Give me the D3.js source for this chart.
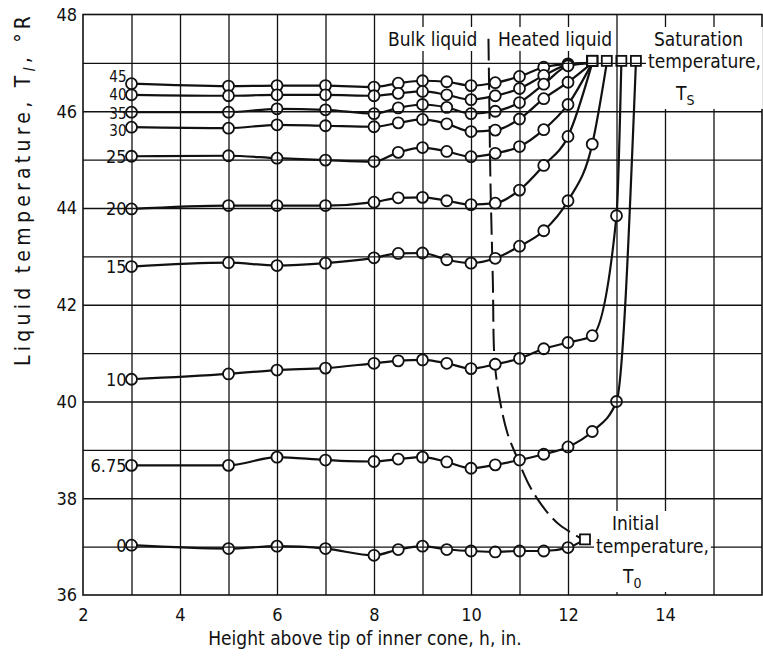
<!DOCTYPE html>
<html>
<head>
<meta charset="utf-8">
<script src="https://cdn.jsdelivr.net/npm/d3@7"></script>
<style>
  body { margin: 0; background: #fff; }
  text { font-family: "DejaVu Sans Condensed", "DejaVu Sans", sans-serif; font-stretch: condensed; fill: #111; }
</style>
</head>
<body>
<svg width="763" height="658"></svg>
<script>
// heights where temperatures were measured (in.)
const heights = [3, 5, 6, 7, 8, 8.5, 9, 9.5, 10, 10.5, 11, 11.5, 12, 12.5, 13];

// curve labels (time)
const timeLabels = ["45", "40", "35", "30", "25", "20", "15", "10", "6.75", "0"];

// liquid temperature, deg R, one array per curve (same order as timeLabels)
const temp45 = [46.57, 46.52, 46.53, 46.53, 46.50, 46.58, 46.63, 46.61, 46.53, 46.59, 46.72, 46.91, 46.98];
const temp40 = [46.34, 46.32, 46.34, 46.34, 46.32, 46.37, 46.41, 46.34, 46.24, 46.32, 46.47, 46.74, 46.96];
const temp35 = [45.98, 45.98, 46.05, 46.03, 45.95, 46.07, 46.14, 46.08, 45.95, 46.00, 46.18, 46.56, 46.94];
const temp30 = [45.67, 45.65, 45.72, 45.70, 45.68, 45.76, 45.83, 45.74, 45.58, 45.61, 45.84, 46.26, 46.60];
const temp25 = [45.07, 45.08, 45.03, 44.99, 44.96, 45.15, 45.25, 45.17, 45.06, 45.13, 45.27, 45.62, 46.14];
const temp20 = [43.98, 44.05, 44.05, 44.05, 44.12, 44.21, 44.22, 44.15, 44.07, 44.10, 44.37, 44.88, 45.48];
const temp15 = [42.79, 42.87, 42.81, 42.86, 42.97, 43.06, 43.07, 42.93, 42.86, 42.96, 43.21, 43.53, 44.15, 45.32];
const temp10 = [40.46, 40.57, 40.65, 40.69, 40.79, 40.84, 40.86, 40.79, 40.68, 40.77, 40.89, 41.09, 41.22, 41.36, 43.84];
const temp675 = [38.68, 38.68, 38.85, 38.79, 38.76, 38.81, 38.85, 38.75, 38.62, 38.69, 38.79, 38.91, 39.06, 39.38, 40.00];
const temp0 = [37.03, 36.96, 37.01, 36.96, 36.82, 36.94, 37.01, 36.94, 36.91, 36.89, 36.91, 36.91, 36.98];

// end points (squares): saturation temperature, and initial temperature for the 0 curve
const endHeights = [12.5, 12.5, 12.5, 12.5, 12.5, 12.5, 12.8, 13.1, 13.4, 12.35];
const endTemps = [47, 47, 47, 47, 47, 47, 47, 47, 47, 37.15];

// dashed boundary between bulk liquid and heated liquid
const boundaryHeights = [10.36, 10.38, 10.40, 10.45, 10.49, 10.6, 10.75, 10.95, 11.19, 11.4, 11.64, 11.85, 12.3];
const boundaryTemps = [47.5, 46.0, 44.6, 42.5, 40.8, 40.0, 39.35, 38.84, 38.29, 37.94, 37.63, 37.43, 37.15];

const xTicks = [2, 4, 6, 8, 10, 12, 14];
const yTicks = [36, 38, 40, 42, 44, 46, 48];

const temps = [temp45, temp40, temp35, temp30, temp25, temp20, temp15, temp10, temp675, temp0];

// small vertical nudges (px) so the crowded labels at the top stay apart
const labelNudge = {"45": -7, "40": 0, "35": 1, "30": 3};

const svg = d3.select("svg");
const plotLeft = 83, plotRight = 762, plotTop = 14.5, plotBottom = 595;

const x = d3.scaleLinear().domain([2, 16]).range([plotLeft, plotRight]);
const y = d3.scaleLinear().domain([36, 48]).range([plotBottom, plotTop]);

const series = temps.map((t, i) => ({
    label: timeLabels[i],
    points: t.map((v, j) => ({h: heights[j], T: v})),
    end: {h: endHeights[i], T: endTemps[i]}
}));

const line = d3.line()
    .x(d => x(d.h))
    .y(d => y(d.T))
    .curve(d3.curveMonotoneX);

// curves
svg.append("g").selectAll("path")
    .data(series)
    .enter()
    .append("path")
    .attr("d", d => line(d.points.concat([d.end])))
    .attr("fill", "none")
    .attr("stroke", "#111")
    .attr("stroke-width", 2.2);

// dashed boundary
const boundary = boundaryHeights.map((h, i) => ({h: h, T: boundaryTemps[i]}));
svg.append("path")
    .attr("d", d3.line().x(d => x(d.h)).y(d => y(d.T)).curve(d3.curveCatmullRom.alpha(0.5))(boundary))
    .attr("fill", "none")
    .attr("stroke", "#111")
    .attr("stroke-width", 2)
    .attr("stroke-dasharray", "22,7");

// circle markers
series.forEach(s => {
    svg.append("g").selectAll("circle")
        .data(s.points)
        .enter()
        .append("circle")
        .attr("cx", d => x(d.h))
        .attr("cy", d => y(d.T))
        .attr("r", 5.5)
        .attr("fill", "#fff")
        .attr("stroke", "#111")
        .attr("stroke-width", 1.8);
});

// square end markers
svg.append("g").selectAll("rect")
    .data(series)
    .enter()
    .append("rect")
    .attr("x", d => x(d.end.h) - 5)
    .attr("y", d => y(d.end.T) - 5 - (d.end.T === 47 ? 2 : 0))
    .attr("width", 10)
    .attr("height", 10)
    .attr("fill", "#fff")
    .attr("stroke", "#111")
    .attr("stroke-width", 1.8);

// grid (drawn over the markers so lines show through the symbols)
const gridX = svg.append("g")
    .attr("transform", `translate(0,${plotBottom})`)
    .call(d3.axisBottom(x).tickValues(d3.range(3, 16)).tickSize(-(plotBottom - plotTop)).tickFormat(""));
const gridY = svg.append("g")
    .attr("transform", `translate(${plotLeft},0)`)
    .call(d3.axisLeft(y).tickValues(d3.range(37, 48)).tickSize(-(plotRight - plotLeft)).tickFormat(""));
[gridX, gridY].forEach(g => {
    g.select(".domain").remove();
    g.selectAll("line").attr("stroke", "#111").attr("stroke-width", 1.3);
});

// frame
svg.append("rect")
    .attr("x", plotLeft).attr("y", plotTop)
    .attr("width", plotRight - plotLeft).attr("height", plotBottom - plotTop)
    .attr("fill", "none").attr("stroke", "#111").attr("stroke-width", 1.6);

// tick labels
const xAxis = svg.append("g")
    .attr("transform", `translate(0,${plotBottom})`)
    .call(d3.axisBottom(x).tickValues(xTicks).tickSize(0).tickPadding(10).tickFormat(d3.format("d")));
const yAxis = svg.append("g")
    .attr("transform", `translate(${plotLeft},0)`)
    .call(d3.axisLeft(y).tickValues(yTicks).tickSize(0).tickPadding(6).tickFormat(d3.format("d")));
[xAxis, yAxis].forEach(g => {
    g.select(".domain").remove();
    g.selectAll("text").attr("font-size", 18).attr("fill", "#111")
        .style("font-family", '"DejaVu Sans Condensed", "DejaVu Sans", sans-serif');
});
xAxis.selectAll("text").attr("dy", "0.9em");

// curve labels
svg.append("g").selectAll("text")
    .data(series)
    .enter()
    .append("text")
    .attr("x", d => x(d.points[0].h) - 5)
    .attr("y", d => y(d.points[0].T) + (labelNudge[d.label] || 0))
    .attr("dy", "0.36em")
    .attr("text-anchor", "end")
    .attr("font-size", d => labelNudge[d.label] !== undefined ? 15 : 18)
    .text(d => d.label);

// axis titles
svg.append("text")
    .attr("x", 365).attr("y", 645)
    .attr("text-anchor", "middle")
    .attr("font-size", 19)
    .text("Height above tip of inner cone, h, in.");

const yTitle = svg.append("text")
    .attr("transform", "translate(30,191) rotate(-90)")
    .attr("text-anchor", "middle")
    .attr("font-size", 21)
    .attr("textLength", 350)
    .attr("lengthAdjust", "spacing");
yTitle.append("tspan").text("Liquid temperature, T");
yTitle.append("tspan").attr("font-style", "italic").attr("font-size", 16).attr("dy", 5).text("l");
yTitle.append("tspan").attr("dy", -5).text(",  \u00b0R");

// annotation blocks with white backing
function block(lines) {
    const g = svg.append("g");
    const bg = g.append("rect").attr("fill", "#fff");
    lines.forEach(l => {
        const t = g.append("text").attr("x", l.x).attr("y", l.y).attr("font-size", 19);
        t.append("tspan").text(l.text);
        if (l.sub) t.append("tspan").attr("font-size", 14).attr("dy", 5).text(l.sub);
    });
    const b = g.node().getBBox();
    bg.attr("x", b.x - 2).attr("y", b.y - 1).attr("width", b.width + 4).attr("height", b.height + 2);
}
block([{x: 388, y: 46, text: "Bulk liquid"}]);
block([{x: 498, y: 46, text: "Heated liquid"}]);
block([
    {x: 654, y: 46, text: "Saturation"},
    {x: 648, y: 68, text: "temperature,"},
    {x: 676, y: 100, text: "T", sub: "S"}
]);
block([
    {x: 612, y: 530, text: "Initial"},
    {x: 596, y: 553, text: "temperature,"},
    {x: 623, y: 583, text: "T", sub: "0"}
]);
</script>
</body>
</html>
